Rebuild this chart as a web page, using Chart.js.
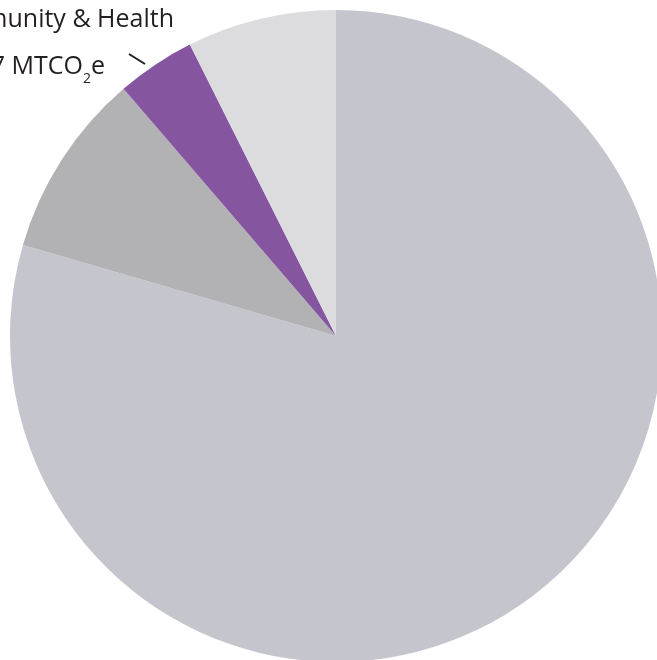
<!DOCTYPE html>
<html>
<head>
<meta charset="utf-8">
<script src="https://cdn.jsdelivr.net/npm/chart.js@4.4.0/dist/chart.umd.min.js"></script>
<style>
  html, body { margin: 0; padding: 0; background: #fff; overflow: hidden; }
  #wrap { position: relative; width: 657px; height: 660px; overflow: hidden; }
  #pie { position: absolute; left: 0; top: 0; }
</style>
</head>
<body>
<div id="wrap">
  <canvas id="pie" width="672" height="672"></canvas>
</div>
<script>
// Emissions share by sector (percent)
var categories = ["Buildings & Energy", "Transportation", "Community & Health", "Waste & Materials"];
var shares = [79.5, 9.2, 3.9, 7.4];
var sliceColors = ["#c5c5cd", "#b2b2b4", "#8655a0", "#dcdcde"];

// callout text for the purple slice
var calloutName = "Community & Health";
var calloutValue = "0.27 MTCO";
var calloutSub = "2";
var calloutUnit = "e";

var calloutPlugin = {
  id: "callout",
  afterDraw: function(chart) {
    var ctx = chart.ctx;
    ctx.save();
    ctx.fillStyle = "#231f20";
    ctx.font = '25px "Open Sans"';
    ctx.textAlign = "right";
    ctx.textBaseline = "alphabetic";
    ctx.fillText(calloutName, 174, 27);

    // value line with subscript, right edge at x=105
    var endX = 105;
    var wUnit = ctx.measureText(calloutUnit).width;
    ctx.font = '14px "Open Sans"';
    var wSub = ctx.measureText(calloutSub).width;
    ctx.font = '25px "Open Sans"';
    ctx.fillText(calloutUnit, endX, 74);
    ctx.font = '14px "Open Sans"';
    ctx.fillText(calloutSub, endX - wUnit, 83);
    ctx.font = '25px "Open Sans"';
    ctx.fillText(calloutValue, endX - wUnit - wSub, 74);

    // leader line
    ctx.strokeStyle = "#231f20";
    ctx.lineWidth = 2;
    ctx.beginPath();
    ctx.moveTo(129, 54);
    ctx.lineTo(145, 64);
    ctx.stroke();
    ctx.restore();
  }
};

new Chart(document.getElementById("pie"), {
  type: "pie",
  data: {
    labels: categories,
    datasets: [{
      data: shares,
      backgroundColor: sliceColors,
      borderWidth: 0
    }]
  },
  options: {
    responsive: false,
    animation: false,
    layout: { padding: 10 },
    plugins: {
      legend: { display: false },
      tooltip: { enabled: false }
    }
  },
  plugins: [calloutPlugin]
});
</script>
</body>
</html>
